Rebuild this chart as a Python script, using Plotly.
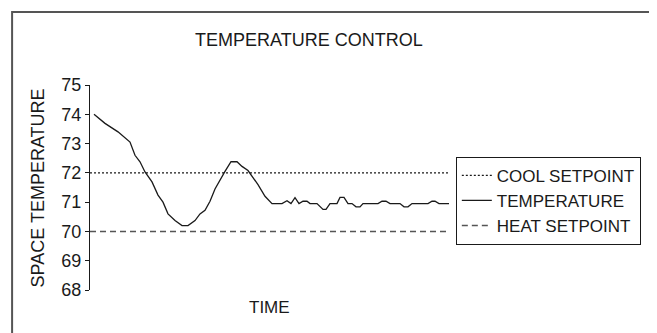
"""Temperature control chart: space temperature vs cool/heat setpoints."""

import plotly.graph_objects as go

# time axis (arbitrary units, no ticks shown) and measured space temperature
time = [4, 15, 28, 40, 45, 50, 55, 62, 68, 73, 78, 85, 92, 98, 105, 110, 115, 120,
        125, 130, 135, 141, 147, 152, 158, 168, 175, 182, 192, 197, 201, 205, 209,
        213, 217, 220, 227, 233, 236, 240, 247, 250, 254, 258, 262, 266, 270, 273,
        288, 292, 296, 300, 310, 314, 318, 322, 338, 342, 345, 349, 359]
temperature = [74.0, 73.69, 73.4, 73.05, 72.6, 72.38, 72.03, 71.69, 71.24, 71.0, 70.6,
               70.37, 70.2, 70.2, 70.37, 70.6, 70.72, 71.03, 71.45, 71.77, 72.05, 72.38,
               72.38, 72.22, 72.08, 71.6, 71.2, 70.95, 70.95, 71.05, 70.95, 71.15, 70.95,
               71.03, 71.03, 70.95, 70.95, 70.75, 70.75, 70.95, 70.95, 71.16, 71.16,
               70.95, 70.95, 70.84, 70.84, 70.95, 70.95, 71.03, 71.03, 70.95, 70.95,
               70.84, 70.84, 70.95, 70.95, 71.03, 71.03, 70.95, 70.95]

setpoint_time = [0, 359]
cool_setpoint = [72, 72]
heat_setpoint = [70, 70]

y_ticks = [68, 69, 70, 71, 72, 73, 74, 75]

FONT = "Liberation Sans, Arial, Helvetica, sans-serif"
INK = "#1a1a1a"
TXT = 17

fig = go.Figure()
fig.add_trace(go.Scatter(
    x=setpoint_time, y=cool_setpoint, mode="lines", name="COOL SETPOINT",
    line={"color": INK, "width": 1.2, "dash": "2px,2px"},
))
fig.add_trace(go.Scatter(
    x=time, y=temperature, mode="lines", name="TEMPERATURE",
    line={"color": INK, "width": 1.3},
))
fig.add_trace(go.Scatter(
    x=setpoint_time, y=heat_setpoint, mode="lines", name="HEAT SETPOINT",
    line={"color": "#555555", "width": 1.4, "dash": "6px,4px"},
))

# the page body has an 8px margin, so the figure is a little smaller than the window
fig.update_layout(
    width=649,
    height=325,
    paper_bgcolor="white",
    plot_bgcolor="white",
    font={"family": FONT, "color": INK, "size": TXT},
    margin={"l": 82, "r": 208, "t": 77, "b": 43, "autoexpand": False},
    showlegend=True,
    legend={
        "x": 1.019, "y": 0.65, "xanchor": "left", "yanchor": "top",
        "bordercolor": INK, "borderwidth": 1, "bgcolor": "white",
        "font": {"size": TXT, "family": FONT, "color": INK},
        "itemwidth": 30, "traceorder": "normal",
    },
    annotations=[
        {"text": "TEMPERATURE CONTROL", "xref": "paper", "yref": "paper",
         "x": 0.61, "y": 1.22, "xanchor": "center", "yanchor": "middle",
         "showarrow": False, "font": {"size": 18}},
        {"text": "TIME", "xref": "paper", "yref": "paper",
         "x": 0.50, "y": -0.083, "xanchor": "center", "yanchor": "middle",
         "showarrow": False, "font": {"size": TXT}},
        {"text": "SPACE TEMPERATURE", "xref": "paper", "yref": "paper",
         "x": -0.145, "y": 0.50, "xanchor": "center", "yanchor": "middle",
         "showarrow": False, "textangle": -90, "font": {"size": 18}},
    ],
    shapes=[
        {"type": "rect", "xref": "paper", "yref": "paper",
         "x0": -0.217, "x1": 1.561, "y0": -0.4, "y1": 1.356,
         "line": {"color": "#555555", "width": 2}, "layer": "below"},
    ],
)
fig.update_xaxes(
    range=[0, 359], showgrid=False, zeroline=False, showline=False,
    showticklabels=False, ticks="",
)
fig.update_yaxes(
    range=[68, 75], tickvals=y_ticks, showgrid=False, zeroline=False,
    showline=True, linecolor=INK, linewidth=1, ticks="outside", ticklen=4,
    tickcolor=INK, tickfont={"size": 18},
)

fig.write_html("out.html")
